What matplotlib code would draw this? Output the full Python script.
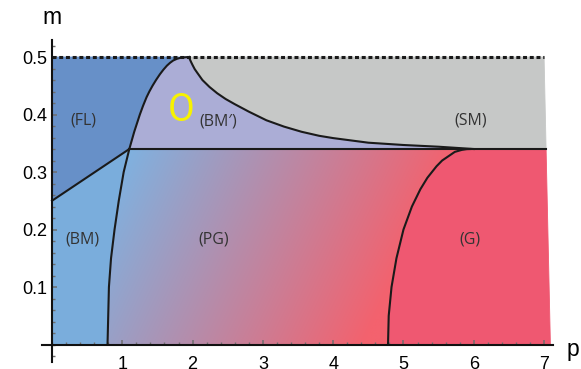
import numpy as np
import matplotlib
matplotlib.use("Agg")
import matplotlib.pyplot as plt
from matplotlib.patches import Polygon
from matplotlib.ticker import MultipleLocator, FixedLocator

# ---- phase boundaries (p, m) ----
# left boundary of the PG / BM' phases, listed bottom to top
LEFT_M = [0.00, 0.05, 0.10, 0.15, 0.20, 0.25, 0.275, 0.30, 0.32, 0.34, 0.355,
          0.37, 0.385, 0.40, 0.415, 0.43, 0.44, 0.45, 0.46, 0.47, 0.478,
          0.485, 0.49, 0.494, 0.497, 0.499, 0.50]
LEFT_P = [0.79, 0.80, 0.81, 0.84, 0.89, 0.95, 0.985, 1.02, 1.06, 1.10, 1.135,
          1.17, 1.21, 1.25, 1.295, 1.345, 1.385, 1.43, 1.48, 1.535, 1.585,
          1.635, 1.68, 1.725, 1.78, 1.84, 1.95]
# SM boundary, from the apex down to the m = 0.34 line
SM_P = [1.95, 1.955, 1.965, 1.98, 2.00, 2.03, 2.07, 2.14, 2.24, 2.35, 2.47,
        2.60, 2.80, 3.05, 3.30, 3.55, 3.80, 4.00, 4.50, 5.00, 5.50, 6.00]
SM_M = [0.500, 0.498, 0.495, 0.491, 0.486, 0.479, 0.472, 0.460, 0.448,
        0.437, 0.427, 0.418, 0.405, 0.390, 0.379, 0.370, 0.363, 0.359,
        0.351, 0.347, 0.344, 0.340]
# G boundary, bottom to top
G_M = [0.00, 0.05, 0.10, 0.15, 0.20, 0.24, 0.27, 0.29, 0.31, 0.32, 0.33,
       0.335, 0.3385, 0.3398, 0.34]
G_P = [4.78, 4.79, 4.83, 4.90, 5.00, 5.12, 5.24, 5.34, 5.47, 5.55, 5.67,
       5.73, 5.83, 5.90, 5.95]
# straight FL / BM border
FLBM_P = [0.00, 1.10]
FLBM_M = [0.25, 0.34]
M_FLAT = 0.34          # horizontal phase line
M_TOP = 0.50           # upper limit of the diagram
RIGHT_TOP, RIGHT_BOTTOM = 7.00, 7.09

# phase labels
LABELS = ["(FL)", "(BM\u2032)", "(SM)", "(BM)", "(PG)", "(G)"]
LABEL_P = [0.445, 2.37, 5.95, 0.437, 2.30, 5.95]
LABEL_M = [0.389, 0.3875, 0.39, 0.1835, 0.1835, 0.1835]

X_TICKS = [1, 2, 3, 4, 5, 6, 7]
Y_TICKS = [0.1, 0.2, 0.3, 0.4, 0.5]

# ---- colours ----
C_FL = "#6790c8"
C_BM = "#7aaddc"
C_BMP = "#abadd6"
C_SM = "#c6c8c7"
C_G = "#ef5871"
PG_START = np.array([125, 179, 226]) / 255.0
PG_END = np.array([243, 98, 110]) / 255.0


def right_edge(m):
    return RIGHT_BOTTOM + (RIGHT_TOP - RIGHT_BOTTOM) * m / M_TOP


LP = np.array(LEFT_P); LM = np.array(LEFT_M)
k = int(np.argmin(np.abs(LM - M_FLAT)))
low = np.column_stack([LP[:k + 1], LM[:k + 1]])
up = np.column_stack([LP[k:], LM[k:]])
sm = np.column_stack([SM_P, SM_M])
g = np.column_stack([G_P, G_M])

poly_FL = np.vstack([[[FLBM_P[0], FLBM_M[0]]], up, [[0.0, M_TOP]]])
poly_BM = np.vstack([[[0.0, 0.0]], low, [[FLBM_P[0], FLBM_M[0]]]])
poly_BMP = np.vstack([up, sm[1:]])
poly_SM = np.vstack([sm, [[right_edge(M_FLAT), M_FLAT], [RIGHT_TOP, M_TOP]]])
poly_G = np.vstack([g, [[right_edge(M_FLAT), M_FLAT], [RIGHT_BOTTOM, 0.0]]])
poly_PG = np.vstack([low, g[::-1]])

W, H = 581, 369
fig = plt.figure(figsize=(W / 100, H / 100), dpi=100)
ax = fig.add_axes([42 / W, 1 - 362 / H, 511 / W, 322 / H])
ax.set_xlim(-0.142, 7.127)
ax.set_ylim(-0.0304, 0.5296)
ax.patch.set_visible(False)

for poly, col in [(poly_FL, C_FL), (poly_BM, C_BM), (poly_BMP, C_BMP),
                  (poly_SM, C_SM), (poly_G, C_G)]:
    ax.add_patch(Polygon(poly, closed=True, facecolor=col, edgecolor=col,
                         lw=0.6, zorder=1))

# PG phase: diagonal colour gradient clipped to its region
pg_patch = Polygon(poly_PG, closed=True, facecolor="none", edgecolor="none")
ax.add_patch(pg_patch)
pp, mm = np.meshgrid(np.linspace(0.7, 6.1, 400), np.linspace(0.0, 0.35, 200))
t = np.clip((pp - 1.0) / 3.8 * 0.8 + (M_FLAT - mm) / M_FLAT * 0.28, 0, 1)
rgb = PG_START[None, None, :] * (1 - t[..., None]) + PG_END[None, None, :] * t[..., None]
im = ax.imshow(rgb, extent=(0.7, 6.1, 0.0, 0.35), origin="lower",
               aspect="auto", interpolation="bilinear", zorder=1)
im.set_clip_path(pg_patch)

# boundaries
lw = 1.5
lc = "#1a1a1a"
for xs, ys in [(LEFT_P, LEFT_M), (SM_P, SM_M), (G_P, G_M), (FLBM_P, FLBM_M)]:
    ax.plot(xs, ys, color=lc, lw=lw, zorder=3, solid_joinstyle="round")
ax.plot([LP[k], right_edge(M_FLAT)], [M_FLAT, M_FLAT], color=lc, lw=lw, zorder=3)
ax.plot([0.0, RIGHT_TOP], [M_TOP, M_TOP], color=lc, lw=2.2,
        linestyle=(0, (1.3, 0.9)), dash_capstyle="butt", zorder=3)

lab_font = ["Open Sans", "DejaVu Sans"]
for s, x, y in zip(LABELS, LABEL_P, LABEL_M):
    ax.text(x, y, s, ha="center", va="center", fontsize=11.5, color="#333333",
            family=lab_font, zorder=4)
ax.text(1.83, 0.407, "O", ha="center", va="center", fontsize=28,
        color="#f7f200", family=["Roboto", "DejaVu Sans"], zorder=4)

# axes through the origin
for side in ["top", "right"]:
    ax.spines[side].set_visible(False)
for side in ["left", "bottom"]:
    ax.spines[side].set_position(("data", 0))
    ax.spines[side].set_linewidth(1.5)
    ax.spines[side].set_color("#111111")
    ax.spines[side].set_zorder(5)

ax.xaxis.set_major_locator(FixedLocator(X_TICKS))
ax.yaxis.set_major_locator(FixedLocator(Y_TICKS))
ax.xaxis.set_minor_locator(MultipleLocator(0.2))
ax.yaxis.set_minor_locator(MultipleLocator(0.02))
ax.set_xticklabels([str(v) for v in X_TICKS])
ax.set_yticklabels([f"{v:.1f}" for v in Y_TICKS])
for lbl in ax.get_xticklabels() + ax.get_yticklabels():
    lbl.set_fontfamily(["Liberation Sans", "DejaVu Sans"])
    lbl.set_fontsize(13)
ax.tick_params(which="major", direction="in", length=3.8, width=1.1,
               color="#6e6e6e")
ax.tick_params(which="minor", direction="in", length=2.0, width=1.0,
               color="#6e6e6e")
ax.tick_params(axis="x", which="major", pad=8)
ax.tick_params(axis="y", which="major", pad=3.5)

fig.text(52 / W, 1 - 24 / H, "m", ha="center", va="baseline", fontsize=16.5,
         family=["Liberation Sans", "DejaVu Sans"])
fig.text(573 / W, 1 - 356 / H, "p", ha="center", va="baseline", fontsize=16.5,
         family=["Liberation Sans", "DejaVu Sans"])

fig.savefig("out.png", dpi=100)
